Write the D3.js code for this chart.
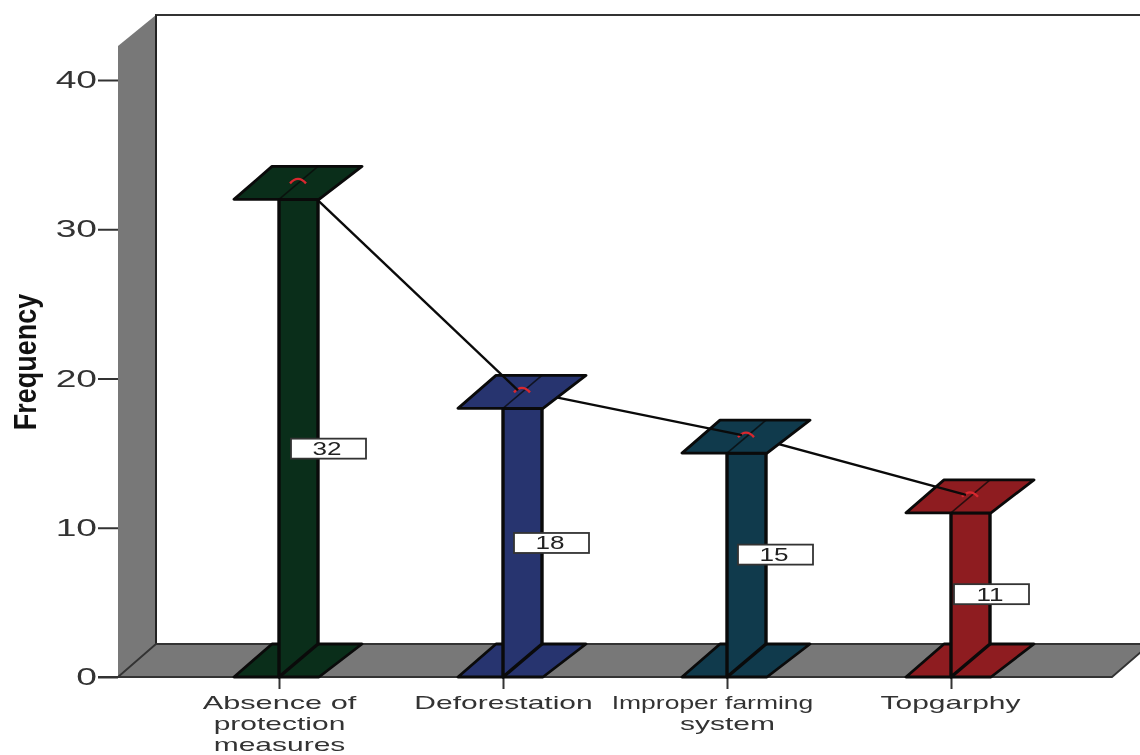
<!DOCTYPE html>
<html><head><meta charset="utf-8">
<script src="https://cdnjs.cloudflare.com/ajax/libs/d3/7.8.5/d3.min.js"></script>
<style>html,body{margin:0;padding:0;background:#fff;overflow:hidden}svg{display:block;filter:blur(0.5px)}text{font-family:"Liberation Sans",Arial,sans-serif}</style>
</head><body><svg id="c" width="1140" height="755"></svg>
<script>
const categories = ["Absence of protection measures","Deforestation","Improper farming system","Topgarphy"];
const frequencies = [32,18,15,11];
const barColors = ["#0a2e1a","#27346f","#103a4c","#8e1c20"];
const labelLevels = [15.3,8.98,8.2,5.55];
const labelOffsets = [12,11,11,3];
const yTickValues = [0,10,20,30,40];
const categoryLines = [["Absence of","protection","measures"],["Deforestation"],["Improper farming","system"],["Topgarphy"]];

const svg = d3.select("#c");
const y = d3.scaleLinear().domain([0,40]).range([677,80]);
const x = d3.scalePoint().domain(categories).range([279,951]);
const dx = 38, dy = 33, wallTop = 46, rightFront = 1112, rightBack = 1150;
const GREY = "#787878", INK = "#0a0a0a";

// back pane, wall and floor
svg.append("path").attr("d",`M${118+dx},${y(0)-dy}V${wallTop-31}H${rightBack}`).attr("fill","none").attr("stroke","#333").attr("stroke-width",2);
svg.append("path").attr("d",`M118,${wallTop}L${118+dx},${wallTop-31}V${y(0)-dy}L118,${y(0)}Z`).attr("fill",GREY);
svg.append("path").attr("d",`M${118+dx},${wallTop-31}V${y(0)-dy}`).attr("stroke","#222").attr("stroke-width",2);
svg.append("path").attr("d",`M118,${y(0)}L${118+dx},${y(0)-dy}H${rightBack}L${rightFront},${y(0)}Z`).attr("fill",GREY).attr("stroke","#333").attr("stroke-width",1.8);

// axes
const yAxis = d3.axisLeft(y).tickValues(yTickValues).tickSize(20).tickPadding(2);
const gy = svg.append("g").attr("transform","translate(118,0)").call(yAxis);
gy.select(".domain").remove();
gy.selectAll(".tick line").attr("stroke","#333").attr("stroke-width",2);
gy.selectAll(".tick text").attr("font-size",24).attr("fill","#333").attr("dy",".32em")
  .attr("x",-21/1.55).attr("transform","scale(1.55,1)");

const xAxis = d3.axisBottom(x).tickSize(12).tickFormat("");
const gx = svg.append("g").attr("transform",`translate(0,${y(0)})`).call(xAxis);
gx.select(".domain").attr("d",`M98,0H${rightFront}`).attr("stroke","#333").attr("stroke-width",1.8);
gx.selectAll(".tick line").attr("stroke","#333").attr("stroke-width",2);
const lineStretch = {"Improper farming":1.44,"Absence of":1.67};
const lineShift = {"Improper farming":-15,"Topgarphy":-1};
const lineY = [32,53.2,74.4];
gx.selectAll(".tick").each(function(d,i){
  categoryLines[i].forEach((ln,k)=>{
    const sx = lineStretch[ln]||1.63;
    d3.select(this).append("text").text(ln).attr("fill","#333").attr("font-size",18.4)
      .attr("text-anchor","middle").attr("x",(lineShift[ln]||0)/sx).attr("y",lineY[k])
      .attr("transform",`scale(${sx},1)`);
  });
});

svg.append("text").text("Frequency").attr("font-size",31).attr("font-weight","bold").attr("fill","#111")
  .attr("text-anchor","middle").attr("transform","translate(36,362) rotate(-90) scale(0.87,1)");

// bars, drawn right to left so each connecting segment lies on the next bar's plate
const W = 45, R = 39;
const plate = (c,py)=>`M${c-W},${py}H${c+R+1}L${c+R+dx+6},${py-dy}H${c-W+dx}Z`;
const mx = c=>c+19, my = v=>y(v)-18;
const order = d3.range(categories.length).reverse();
order.forEach(i=>{
  const c = x(categories[i]), v = frequencies[i], col = barColors[i], g = svg.append("g");
  g.append("path").attr("d",plate(c,y(0))).attr("fill",col).attr("stroke",INK).attr("stroke-width",2.8).attr("stroke-linejoin","round");
  g.append("path").attr("d",`M${c},${y(v)}H${c+R}V${y(0)-dy}L${c},${y(0)}Z`).attr("fill",col).attr("stroke",INK).attr("stroke-width",3.4).attr("stroke-linejoin","round");
  g.append("path").attr("d",plate(c,y(v))).attr("fill",col).attr("stroke",INK).attr("stroke-width",2.8).attr("stroke-linejoin","round");
  g.append("path").attr("d",`M${c},${y(v)}L${c+R},${y(v)-dy}`).attr("stroke",INK).attr("stroke-opacity",.75).attr("stroke-width",1.6);
  g.append("path").attr("d",`M${mx(c)-8},${my(v)+2}Q${mx(c)},${my(v)-7} ${mx(c)+8},${my(v)+2}`)
    .attr("fill","none").attr("stroke","#d8282f").attr("stroke-width",2.4);
  if(i>0){
    const c0 = x(categories[i-1]);
    // segment from previous bar's marker to this one
    svg.append("line").attr("x1",mx(c0)).attr("y1",my(frequencies[i-1])).attr("x2",mx(c)-4).attr("y2",my(v))
      .attr("stroke",INK).attr("stroke-width",2.4);
  }
});

// value labels
frequencies.forEach((v,i)=>{
  const c = x(categories[i]), cy = y(labelLevels[i]), bx = c+labelOffsets[i];
  svg.append("rect").attr("x",bx).attr("y",cy-10).attr("width",75).attr("height",20)
    .attr("fill","#fff").attr("stroke","#333").attr("stroke-width",1.8);
  svg.append("text").text(v).attr("font-size",18).attr("fill","#222").attr("text-anchor","middle")
    .attr("dy",".36em").attr("transform",`translate(${bx+36},${cy}) scale(1.45,1)`);
});
</script></body></html>
